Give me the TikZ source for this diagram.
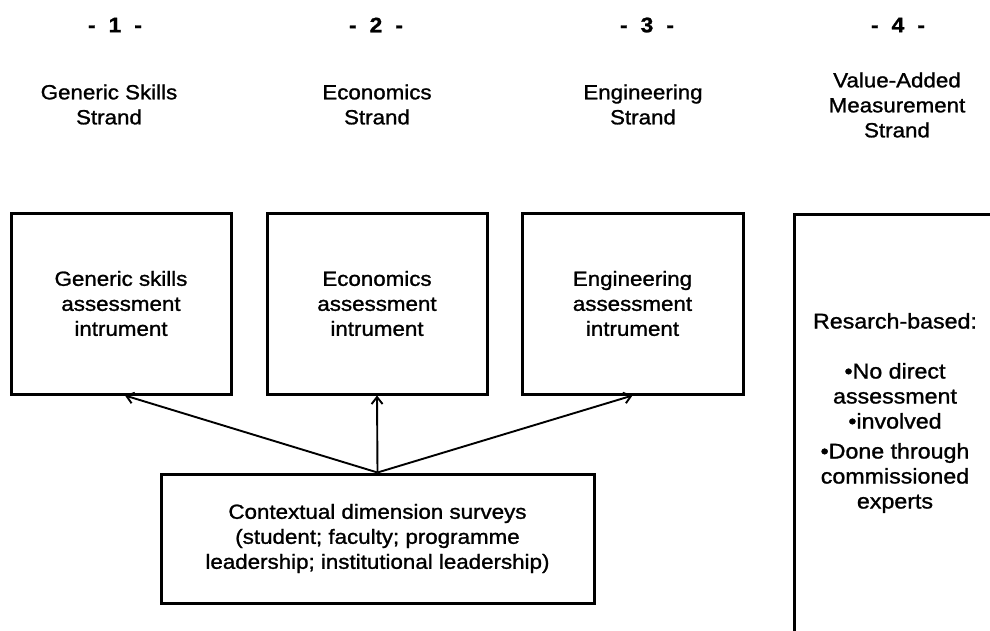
\documentclass[tikz,border=0pt]{standalone}
\usepackage{fontspec}
\setmainfont{Liberation Sans}[FakeStretch=1.09,FakeBold=1.2]
\usetikzlibrary{arrows.meta,calc}
\begin{document}
\begin{tikzpicture}[x=1pt,y=-1pt,
  txt/.style={font=\fontsize{20.5}{25}\selectfont, align=center, inner sep=0pt, text=black},
  hdr/.style={font=\fontsize{21}{25}\selectfont\bfseries, inner sep=0pt, text=black},
  box/.style={draw=black, line width=3pt, inner sep=0pt},
  arr/.style={draw=black, line width=1.9pt, -{Straight Barb[length=7pt,width=11pt,line width=1.9pt]}}]
\useasboundingbox (0,0) rectangle (990,630);
\fill[white] (0,0) rectangle (990,630);
% headers
\node[hdr] (h1) at (115,25) {-\hspace{13pt}1\hspace{13pt}-};
\node[hdr] (h2) at (376,25) {-\hspace{13pt}2\hspace{13pt}-};
\node[hdr] (h3) at (647,25) {-\hspace{13pt}3\hspace{13pt}-};
\node[hdr] (h4) at (898,25) {-\hspace{13pt}4\hspace{13pt}-};
% strand titles
\node[txt] (t1) at (109,104.5) {Generic Skills\\Strand};
\node[txt] (t2) at (377,104.5) {Economics\\Strand};
\node[txt] (t3) at (643,104.5) {Engineering\\Strand};
\node[txt] (t4) at (897,105) {Value-Added\\Measurement\\Strand};
% instrument boxes
\node[box, txt, minimum width=220pt, minimum height=181pt] (b1) at (121,303.5) {Generic skills\\assessment\\intrument};
\node[box, txt, minimum width=220pt, minimum height=181pt] (b2) at (377,303.5) {Economics\\assessment\\intrument};
\node[box, txt, minimum width=221pt, minimum height=181pt] (b3) at (632.5,303.5) {Engineering\\assessment\\intrument};
% value-added box (runs off the picture)
\node[box, minimum width=230pt, minimum height=460pt, anchor=north west] (b4) at (793,213) {};
\node[txt, font=\fontsize{21.3}{25}\selectfont] (b4t) at (895,413) {Resarch-based:\\[25pt]\textbullet No direct\\assessment\\\textbullet involved\\[5pt]\textbullet Done through\\commissioned\\experts};
% surveys box
\node[box, txt, minimum width=433pt, minimum height=129pt] (bot) at (377.5,538.5) {Contextual dimension surveys\\(student; faculty; programme\\leadership; institutional leadership)};
% arrows
\draw[arr] (bot.north) -- ($(b1.south)+(4,0)$);
\draw[arr] (bot.north) -- (b2.south);
\draw[arr] (bot.north) -- (b3.south);
\end{tikzpicture}
\end{document}
